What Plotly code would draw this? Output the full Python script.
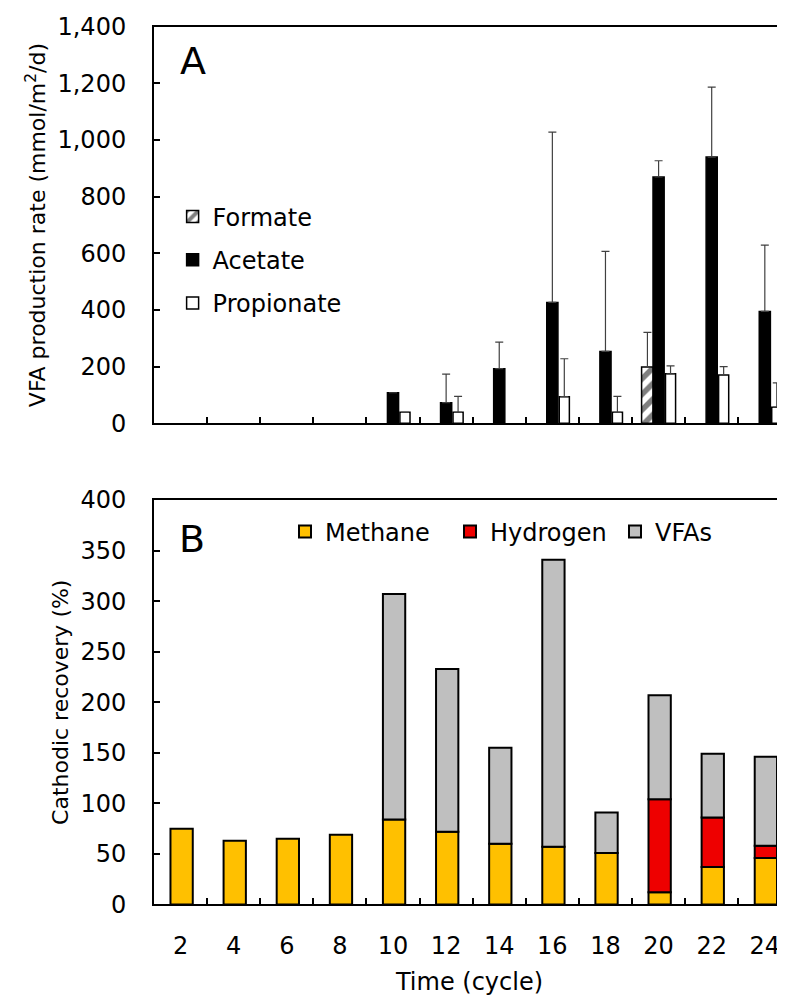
import plotly.graph_objects as go

cycles = ["2", "4", "6", "8", "10", "12", "14", "16", "18", "20", "22", "24"]

# Panel A: VFA production rate (mmol/m2/d)
formate = [None, None, None, None, None, None, None, None, None, 199, None, None]
formate_up = [None, None, None, None, None, None, None, None, None, 321, None, None]
acetate = [None, None, None, None, 108, 73, 193, 427, 254, 870, 940, 395]
acetate_up = [None, None, None, None, 108, 174, 287, 1028, 607, 927, 1187, 629]
propionate = [None, None, None, None, 39, 39, None, 94, 39, 175, 171, 57]
propionate_up = [None, None, None, None, 39, 95, None, 228, 95, 203, 200, 143]

# Panel B: Cathodic recovery (%)
methane = [75, 63, 65, 69, 84, 72, 60, 57, 51, 12, 37, 46]
hydrogen = [0, 0, 0, 0, 0, 0, 0, 0, 0, 92, 49, 12]
vfas = [0, 0, 0, 0, 223, 161, 95, 284, 40, 103, 63, 88]

FONT = "DejaVu Sans"
FS = 24


def err(vals, ups):
    return [None if v is None else (u - v) for v, u in zip(vals, ups)]


def nz(vals):
    return [v if v else None for v in vals]


fig = go.Figure()

ekw = dict(type="data", symmetric=False, color="#404040", thickness=1.2, width=4)

fig.add_trace(go.Bar(
    x=cycles, y=formate, name="Formate", width=0.22, offset=-0.32,
    marker=dict(color="white", line=dict(color="black", width=1.5),
                pattern=dict(shape="/", fgcolor="black", bgcolor="white", size=11, solidity=0.5)),
    error_y=dict(array=err(formate, formate_up), arrayminus=[0] * 12, **ekw),
    xaxis="x", yaxis="y", legend="legend", legendgroup="f"))
fig.add_trace(go.Bar(
    x=cycles, y=acetate, name="Acetate", width=0.21, offset=-0.105,
    marker=dict(color="black", line=dict(color="black", width=1.5)),
    error_y=dict(array=err(acetate, acetate_up), arrayminus=[0] * 12, **ekw),
    xaxis="x", yaxis="y", legend="legend", legendgroup="a"))
fig.add_trace(go.Bar(
    x=cycles, y=propionate, name="Propionate", width=0.19, offset=0.13,
    marker=dict(color="white", line=dict(color="black", width=1.5)),
    error_y=dict(array=err(propionate, propionate_up), arrayminus=[0] * 12, **ekw),
    xaxis="x", yaxis="y", legend="legend", legendgroup="p"))

base_h = methane
base_v = [m + h for m, h in zip(methane, hydrogen)]
bline = dict(color="black", width=2)
fig.add_trace(go.Bar(x=cycles, y=nz(methane), name="Methane", width=0.42, offset=-0.19,
                     marker=dict(color="#FFC000", line=bline), xaxis="x2", yaxis="y2", legend="legend2"))
fig.add_trace(go.Bar(x=cycles, y=nz(hydrogen), base=base_h, name="Hydrogen", width=0.42, offset=-0.19,
                     marker=dict(color="#EE0000", line=bline), xaxis="x2", yaxis="y2", legend="legend2"))
fig.add_trace(go.Bar(x=cycles, y=nz(vfas), base=base_v, name="VFAs", width=0.42, offset=-0.19,
                     marker=dict(color="#BFBFBF", line=bline), xaxis="x2", yaxis="y2", legend="legend2"))

axfont = dict(family=FONT, size=FS, color="black")
tfont = dict(family=FONT, size=22, color="black")
xcommon = dict(type="category", range=[-0.5, 11.38], showline=True, linecolor="black", linewidth=2,
               mirror=True, ticks="inside", tickson="boundaries", ticklen=6, tickwidth=2,
               tickcolor="black", showgrid=False, zeroline=False, tickfont=axfont, automargin=False)
ycommon = dict(showline=True, linecolor="black", linewidth=2, ticks="inside", ticklen=6,
               tickwidth=1.5, tickcolor="black", showgrid=False, zeroline=False, tickfont=axfont,
               ticklabelstandoff=21, automargin=False)

fig.update_layout(
    width=777, height=992,
    margin=dict(l=146, r=0, t=0, b=0, autoexpand=False),
    paper_bgcolor="white", plot_bgcolor="white",
    barmode="overlay",
    font=dict(family=FONT, size=FS, color="black"),
    xaxis=dict(domain=[0, 1], anchor="y", showticklabels=False, **xcommon),
    yaxis=dict(domain=[0.5813, 0.9811], anchor="x", range=[0, 1400], dtick=200, tickformat=",",
               title=dict(text="VFA production rate (mmol/m<sup>2</sup>/d)", font=tfont, standoff=6),
               **ycommon),
    xaxis2=dict(domain=[0, 1], anchor="y2", ticklabelstandoff=19,
                title=dict(text="Time (cycle)", font=axfont, standoff=14), **xcommon),
    yaxis2=dict(domain=[0.0963, 0.504], anchor="x2", range=[0, 400], dtick=50,
                title=dict(text="Cathodic recovery (%)", font=tfont, standoff=6),
                **ycommon),
    legend=dict(x=0.0295, y=0.746, xanchor="left", yanchor="middle", orientation="v",
                traceorder="grouped", tracegroupgap=9, font=axfont, bgcolor="rgba(0,0,0,0)"),
    legend2=dict(x=0.2076, y=0.4718, xanchor="left", yanchor="middle", orientation="h",
                 traceorder="normal", entrywidth=120, font=axfont, bgcolor="rgba(0,0,0,0)"),
    showlegend=True,
    annotations=[
        dict(text="A", x=0.0612, y=0.9468, xref="paper", yref="paper", showarrow=False,
             xanchor="center", yanchor="middle",
             font=dict(family=FONT, size=38, color="black")),
        dict(text="B", x=0.0597, y=0.4652, xref="paper", yref="paper", showarrow=False,
             xanchor="center", yanchor="middle",
             font=dict(family=FONT, size=38, color="black")),
    ],
)

fig.write_html("out.html")
